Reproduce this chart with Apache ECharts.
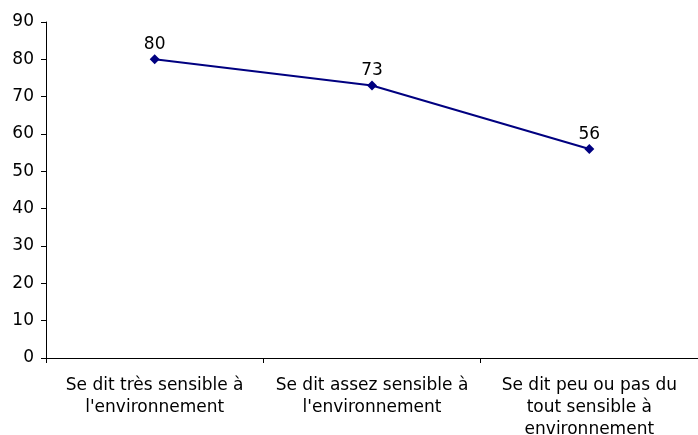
<!DOCTYPE html>
<html>
<head>
<meta charset="utf-8">
<script src="https://cdn.jsdelivr.net/npm/echarts@6/dist/echarts.min.js"></script>
<style>
  html, body { margin: 0; padding: 0; background: #fff; }
  #chart { width: 698px; height: 435px; }
</style>
</head>
<body>
<div id="chart"></div>
<script>
// Line chart: share by self-declared environmental sensitivity.
var categories = [
  "Se dit très sensible à\nl'environnement",
  "Se dit assez sensible à\nl'environnement",
  "Se dit peu ou pas du\ntout sensible à\nenvironnement"
];
var values = [80, 73, 56];
var yTicks = { min: 0, max: 90, interval: 10 };

var chart = echarts.init(document.getElementById("chart"), null, { renderer: "canvas" });
var font = "DejaVu Sans, Verdana, sans-serif";

chart.setOption({
  backgroundColor: "#ffffff",
  animation: false,
  grid: { left: 46, right: 0, top: 22, bottom: 77, containLabel: false, outerBoundsMode: "none" },
  xAxis: {
    type: "category",
    data: categories,
    boundaryGap: true,
    axisLine: { lineStyle: { color: "#000", width: 1 } },
    axisTick: { show: true, length: 5, lineStyle: { color: "#000" } },
    axisLabel: {
      interval: 0,
      margin: 17,
      color: "#000",
      fontFamily: font,
      fontSize: 17,
      lineHeight: 22,
      align: "center"
    },
    splitLine: { show: false }
  },
  yAxis: {
    type: "value",
    min: yTicks.min,
    max: yTicks.max,
    interval: yTicks.interval,
    axisLine: { show: true, lineStyle: { color: "#000", width: 1 } },
    axisTick: { show: true, length: 5, lineStyle: { color: "#000" } },
    axisLabel: { margin: 12, color: "#000", fontFamily: font, fontSize: 17 },
    splitLine: { show: false }
  },
  series: [
    {
      type: "line",
      data: values,
      symbol: "diamond",
      symbolSize: 10,
      lineStyle: { color: "#000080", width: 2 },
      itemStyle: { color: "#000080" },
      label: {
        show: true,
        position: "top",
        distance: 1,
        color: "#000",
        fontFamily: font,
        fontSize: 17
      }
    }
  ]
});
</script>
</body>
</html>
